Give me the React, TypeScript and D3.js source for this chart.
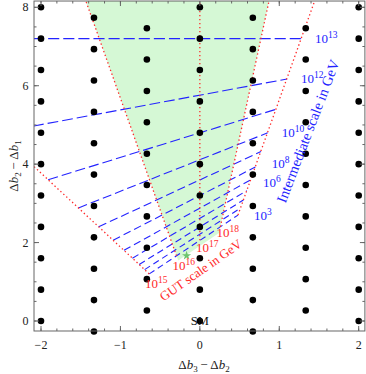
import React from 'react';
import * as d3 from 'd3';

const W = 366;
const H = 374;

// lattice of models: one column of Δb2−Δb1 values for each Δb3−Δb2
const dotColumnX = [-2, -1.333, -0.667, 0, 0.667, 1.333, 2];
const dotColumnY = [
  [0, 0.8, 1.6, 2.4, 3.2, 4.0, 4.8, 5.6, 6.4, 7.2, 8.0],
  [-0.267, 0.533, 1.333, 2.133, 2.933, 3.733, 4.533, 5.333, 6.133, 6.933, 7.733],
  [0.267, 1.067, 1.867, 2.667, 3.467, 4.267, 5.067, 5.867, 6.667, 7.467],
  [0, 0.8, 1.6, 2.4, 3.2, 4.0, 4.8, 5.6, 6.4, 7.2, 8.0],
  [-0.267, 0.533, 1.333, 2.133, 2.933, 3.733, 4.533, 5.333, 6.133, 6.933, 7.733],
  [0.267, 1.067, 1.867, 2.667, 3.467, 4.267, 5.067, 5.867, 6.667, 7.467],
  [0, 0.8, 1.6, 2.4, 3.2, 4.0, 4.8, 5.6, 6.4, 7.2, 8.0],
];

// intermediate scale contours (blue), exponent of GeV, from/to points
const intermediateExp = [3, 4, 5, 6, 7, 8, 9, 10, 11, 12, 13];
const intermediateFrom = [
  [-0.637, 1.201], [-0.695, 1.311], [-0.764, 1.442], [-0.849, 1.602],
  [-0.955, 1.802], [-1.092, 2.059], [-1.274, 2.402], [-1.528, 2.883],
  [-1.91, 3.603], [-2.1, 4.97], [-2.1, 7.2],
];
const intermediateTo = [
  [0.48, 2.7], [0.512, 2.88], [0.549, 3.086], [0.591, 3.324],
  [0.641, 3.6], [0.699, 3.928], [0.769, 4.32], [0.854, 4.8],
  [0.961, 5.4], [1.098, 6.172], [1.281, 7.2],
];

// GUT scale contours (red)
const gutExp = [15, 16, 17, 18, 19];
const gutFrom = [[-0.637, 1.201], [-0.294, 1.664], [0, 2.057], [0.258, 2.403], [0.48, 2.7]];
const gutTo = [[-2.1, 3.96], [-1.442, 8.2], [0, 8.2], [0.875, 8.2], [1.452, 8.2]];

// shaded region between 10^16 and 10^18
const allowedRegion = [[-0.272, 1.54], [-1.442, 8.2], [0.875, 8.2], [0.241, 2.247]];
const mssmPoint = [-0.167, 1.667];

// label anchors
const blueLabelExp = [13, 12, 10, 8, 6, 3];
const blueLabelAt = [[1.45, 7.098], [1.273, 6.077], [1.03, 4.7], [0.904, 3.894], [0.795, 3.43], [0.682, 2.576]];
const redLabelExp = [15, 16, 17, 18];
const redLabelAt = [[-0.691, 0.842], [-0.344, 1.313], [-0.048, 1.76], [0.21, 2.13]];

const xMajor = [-2, -1, 0, 1, 2];
const yMajor = [0, 2, 4, 6, 8];

const SERIF = '"Liberation Serif", "Times New Roman", serif';
const BLUE = '#2323ff';
const RED = '#ff2a2a';

const fmt = (v: number) => (v < 0 ? '\u2212' + Math.abs(v) : String(v));

export default function App() {
  const x = d3.scaleLinear().domain([-2, 2]).range([41, 358.7]);
  const y = d3.scaleLinear().domain([0, 8]).range([321, 7.3]);
  const fl = x(-2.088), fr = x(2.078), ft = y(8.16), fb = y(-0.255);

  const line = d3.line<number[]>().x(d => x(d[0])).y(d => y(d[1]));
  const xMinor = d3.range(-2, 2.001, 0.2);
  const yMinor = d3.range(0, 8.001, 0.5);

  const sup = (exp: number, p: number[], color: string, key: string) => (
    <text key={key} x={x(p[0])} y={y(p[1])} fill={color} fontSize={13} fontFamily={SERIF}>
      10<tspan dy={-5} fontSize={9.5}>{exp}</tspan>
    </text>
  );

  return (
    <div style={{ position: 'absolute', left: 0, top: 0 }}>
      <svg width={W} height={H} style={{ display: 'block', background: '#fff' }}>
        <defs>
          <clipPath id="frame">
            <rect x={fl} y={ft} width={fr - fl} height={fb - ft} />
          </clipPath>
        </defs>

        <g clipPath="url(#frame)">
          <path d={line(allowedRegion) + 'Z'} fill="#d5f8d5" stroke="none" />
          {intermediateExp.map((e, i) => {
            const a = intermediateFrom[i], b = intermediateTo[i];
            const len = Math.hypot(x(b[0]) - x(a[0]), y(b[1]) - y(a[1]));
            return (
              <path key={'b' + e} d={line([a, b]) || ''} stroke={BLUE} strokeWidth={1.1}
                fill="none" strokeDasharray={`${(3 + len * 0.03).toFixed(1)},4`} />
            );
          })}
          {gutExp.map((e, i) => (
            <path key={'r' + e} d={line([gutFrom[i], gutTo[i]]) || ''} stroke={RED}
              strokeWidth={1.3} fill="none" strokeDasharray="1.4,2.6" />
          ))}
        </g>

        {dotColumnX.map((cx, i) =>
          dotColumnY[i].map(cy => (
            <circle key={`${i}-${cy}`} cx={x(cx)} cy={y(cy)} r={3.3} fill="#000" />
          ))
        )}

        <path transform={`translate(${x(mssmPoint[0])},${y(mssmPoint[1])})`}
          d={d3.symbol(d3.symbolStar, 26)() || ''} fill="#6cc46c" />

        <text x={x(0)} y={y(-0.11)} textAnchor="middle" fontSize={12.5} fontFamily={SERIF} fill="#111">SM</text>

        {blueLabelExp.map((e, i) => sup(e, blueLabelAt[i], BLUE, 'bl' + e))}
        {redLabelExp.map((e, i) => sup(e, redLabelAt[i], RED, 'rl' + e))}

        <text transform={`translate(${x(0.543)},${y(1.913)}) rotate(-35)`} textAnchor="end"
          fontSize={13} fontFamily={SERIF} fill={RED}>GUT scale in GeV</text>
        <text transform={`translate(${x(1.763)},${y(6.605)}) rotate(-69)`} textAnchor="end"
          fontSize={14.5} fontFamily={SERIF} fill={BLUE}>Intermediate scale in GeV</text>

        {/* frame */}
        <rect x={fl} y={ft} width={fr - fl} height={fb - ft} fill="none" stroke="#666" strokeWidth={1} />
        {xMinor.map(v => (
          <g key={'xm' + v}>
            <line x1={x(v)} x2={x(v)} y1={fb} y2={fb - 2.5} stroke="#666" />
            <line x1={x(v)} x2={x(v)} y1={ft} y2={ft + 2.5} stroke="#666" />
          </g>
        ))}
        {xMajor.map(v => (
          <g key={'xM' + v}>
            <line x1={x(v)} x2={x(v)} y1={fb} y2={fb - 5} stroke="#666" />
            <line x1={x(v)} x2={x(v)} y1={ft} y2={ft + 5} stroke="#666" />
            <text x={x(v)} y={349} textAnchor="middle" fontSize={12} fontFamily={SERIF} fill="#222">{fmt(v)}</text>
          </g>
        ))}
        {yMinor.map(v => (
          <g key={'ym' + v}>
            <line x1={fl} x2={fl + 2.5} y1={y(v)} y2={y(v)} stroke="#666" />
            <line x1={fr} x2={fr - 2.5} y1={y(v)} y2={y(v)} stroke="#666" />
          </g>
        ))}
        {yMajor.map(v => (
          <g key={'yM' + v}>
            <line x1={fl} x2={fl + 5} y1={y(v)} y2={y(v)} stroke="#666" />
            <line x1={fr} x2={fr - 5} y1={y(v)} y2={y(v)} stroke="#666" />
            <text x={28.5} y={y(v) + 4} textAnchor="end" fontSize={12} fontFamily={SERIF} fill="#222">{fmt(v)}</text>
          </g>
        ))}

        <text x={204} y={369} textAnchor="middle" fontSize={13} fontFamily={SERIF} fill="#222">
          Δ<tspan fontStyle="italic">b</tspan><tspan fontSize={9} dy={3}>3</tspan>
          <tspan dy={-3}>{'\u2009\u2212\u2009'}Δ</tspan><tspan fontStyle="italic">b</tspan><tspan fontSize={9} dy={3}>2</tspan>
        </text>
        <text transform={`translate(18,${(ft + fb) / 2}) rotate(-90)`} textAnchor="middle" fontSize={13} fontFamily={SERIF} fill="#222">
          Δ<tspan fontStyle="italic">b</tspan><tspan fontSize={9} dy={3}>2</tspan>
          <tspan dy={-3}>{'\u2009\u2212\u2009'}Δ</tspan><tspan fontStyle="italic">b</tspan><tspan fontSize={9} dy={3}>1</tspan>
        </text>
      </svg>
    </div>
  );
}
